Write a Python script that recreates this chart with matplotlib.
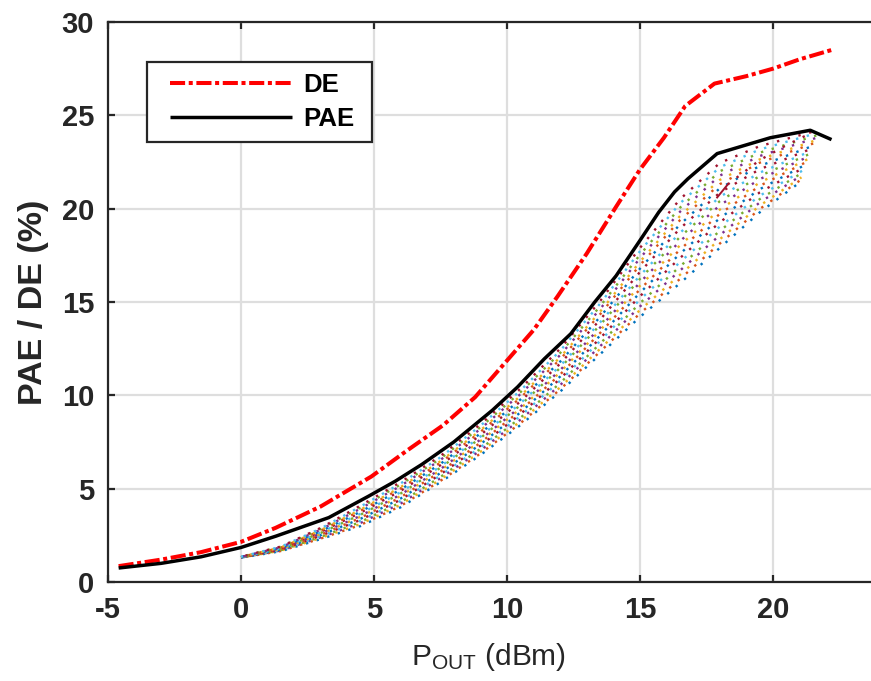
import numpy as np
import matplotlib
matplotlib.use("Agg")
import matplotlib.pyplot as plt
from matplotlib.patches import Rectangle

plt.rcParams['font.family'] = ['Liberation Sans', 'DejaVu Sans']
plt.rcParams['mathtext.fontset'] = 'custom'
plt.rcParams['mathtext.rm'] = 'Liberation Sans'
plt.rcParams['mathtext.it'] = 'Liberation Sans:italic'
plt.rcParams['mathtext.bf'] = 'Liberation Sans:bold'

# ---------------- data ----------------
pout_de = [-4.6, -3.0, -1.5, 0.0, 1.3, 3.0, 4.9, 6.2, 7.6, 8.8, 9.9, 11.0, 11.9,
           13.0, 14.1, 15.0, 15.9, 16.7, 17.8, 19.0, 20.0, 21.0, 22.2]
de = [0.85, 1.2, 1.6, 2.15, 2.9, 4.05, 5.65, 7.0, 8.4, 9.9, 11.7, 13.5, 15.3,
      17.6, 20.1, 22.1, 23.8, 25.5, 26.7, 27.1, 27.5, 28.0, 28.5]

pout_pae = [-4.6, -3.0, -1.5, 0.0, 1.3, 3.3, 4.8, 5.8, 6.8, 8.0, 9.45, 10.4, 11.4,
            12.4, 13.3, 14.1, 15.0, 15.7, 16.3, 16.8, 17.9, 19.9, 21.4, 22.2]
pae = [0.75, 1.0, 1.35, 1.85, 2.45, 3.45, 4.6, 5.4, 6.3, 7.5, 9.2, 10.45, 11.95,
       13.3, 15.0, 16.4, 18.3, 19.8, 20.9, 21.6, 22.95, 23.8, 24.2, 23.7]

# dotted sweep family: PAE of each sweep read at common Pout points
pout_sweep_grid = [0.0, 1.5, 3.0, 4.5, 6.0, 7.5, 9.0, 10.5, 12.0, 13.5, 15.0, 16.5, 18.0, 19.5]
pae_sweep_at_0 = [1.30, 1.30, 1.31, 1.31, 1.31, 1.31, 1.32, 1.32, 1.32, 1.32, 1.33,
                  1.33, 1.33, 1.33, 1.34, 1.34, 1.34, 1.34, 1.35, 1.35, 1.35]
pae_sweep_at_1p5 = [1.65, 1.66, 1.68, 1.69, 1.70, 1.71, 1.73, 1.74, 1.75, 1.76, 1.78,
                    1.79, 1.80, 1.81, 1.83, 1.84, 1.85, 1.86, 1.88, 1.89, 1.90]
pae_sweep_at_3 = [2.30, 2.33, 2.36, 2.39, 2.42, 2.45, 2.48, 2.51, 2.54, 2.57, 2.60,
                  2.63, 2.66, 2.69, 2.72, 2.75, 2.78, 2.81, 2.84, 2.87, 2.90]
pae_sweep_at_4p5 = [3.00, 3.06, 3.11, 3.17, 3.22, 3.28, 3.33, 3.39, 3.44, 3.50, 3.55,
                    3.61, 3.66, 3.72, 3.77, 3.83, 3.88, 3.94, 3.99, 4.05, 4.10]
pae_sweep_at_6 = [4.00, 4.07, 4.14, 4.20, 4.27, 4.34, 4.41, 4.47, 4.54, 4.61, 4.68,
                  4.74, 4.81, 4.88, 4.95, 5.01, 5.08, 5.15, 5.22, 5.28, 5.35]
pae_sweep_at_7p5 = [5.35, 5.42, 5.49, 5.56, 5.63, 5.70, 5.77, 5.84, 5.91, 5.98, 6.05,
                    6.12, 6.19, 6.26, 6.33, 6.40, 6.47, 6.54, 6.61, 6.68, 6.75]
pae_sweep_at_9 = [6.80, 6.88, 6.97, 7.05, 7.13, 7.21, 7.30, 7.38, 7.46, 7.54, 7.63,
                  7.71, 7.79, 7.87, 7.96, 8.04, 8.12, 8.20, 8.29, 8.37, 8.45]
pae_sweep_at_10p5 = [8.40, 8.50, 8.60, 8.69, 8.79, 8.89, 8.99, 9.08, 9.18, 9.28, 9.38,
                     9.47, 9.57, 9.67, 9.77, 9.86, 9.96, 10.06, 10.16, 10.25, 10.35]
pae_sweep_at_12 = [10.20, 10.32, 10.43, 10.55, 10.66, 10.78, 10.89, 11.01, 11.12, 11.24, 11.35,
                   11.47, 11.58, 11.70, 11.81, 11.93, 12.04, 12.16, 12.27, 12.39, 12.50]
pae_sweep_at_13p5 = [12.20, 12.34, 12.49, 12.63, 12.77, 12.91, 13.06, 13.20, 13.34, 13.48, 13.63,
                     13.77, 13.91, 14.05, 14.20, 14.34, 14.48, 14.62, 14.77, 14.91, 15.05]
pae_sweep_at_15 = [14.20, 14.39, 14.57, 14.76, 14.94, 15.13, 15.31, 15.50, 15.68, 15.87, 16.05,
                   16.24, 16.42, 16.61, 16.79, 16.98, 17.16, 17.35, 17.53, 17.72, 17.90]
pae_sweep_at_16p5 = [16.00, 16.23, 16.45, 16.68, 16.90, 17.13, 17.35, 17.58, 17.80, 18.03, 18.25,
                     18.48, 18.70, 18.93, 19.15, 19.38, 19.60, 19.83, 20.05, 20.28, 20.50]
pae_sweep_at_18 = [17.90, 18.13, 18.36, 18.58, 18.81, 19.04, 19.27, 19.49, 19.72, 19.95, 20.18,
                   20.40, 20.63, 20.86, 21.09, 21.31, 21.54, 21.77, 22.00, 22.22, 22.45]
pae_sweep_at_19p5 = [19.80, 19.98, 20.16, 20.33, 20.51, 20.69, 20.87, 21.04, 21.22, 21.40, 21.58,
                     21.75, 21.93, 22.11, 22.29, 22.46, 22.64, 22.82, 23.00, 23.17, 23.35]
pout_sweep_end = [21.00, 21.04, 21.07, 21.11, 21.14, 21.18, 21.21, 21.25, 21.28, 21.32, 21.35,
                  21.39, 21.42, 21.46, 21.49, 21.53, 21.56, 21.60, 21.63, 21.67, 21.70]
pae_sweep_end = [21.40, 21.54, 21.68, 21.82, 21.96, 22.10, 22.24, 22.38, 22.52, 22.66, 22.80,
                 22.94, 23.08, 23.22, 23.36, 23.50, 23.64, 23.78, 23.92, 24.06, 24.20]

# short extra sweep (dark red) near the top
pout_short = [17.9, 18.3, 19.5, 20.5, 21.5]
pae_short = [20.6, 21.3, 22.6, 23.4, 24.1]

legend_labels = ['DE', 'PAE']
xticks = [-5, 0, 5, 10, 15, 20]
yticks = [0, 5, 10, 15, 20, 25, 30]

matlab_colors = ['#0072BD', '#D95319', '#EDB120', '#7E2F8E', '#77AC30', '#4DBEEE', '#A2142F']

# ---------------- figure ----------------
W, H = 871, 681
fig = plt.figure(figsize=(W / 100, H / 100), dpi=100)
ax_left, ax_right, ax_top, ax_bottom = 108, 906, 22, 582
ax = fig.add_axes([ax_left / W, (H - ax_bottom) / H, (ax_right - ax_left) / W,
                   (ax_bottom - ax_top) / H])

sweep_cols = np.array([pae_sweep_at_0, pae_sweep_at_1p5, pae_sweep_at_3, pae_sweep_at_4p5,
                       pae_sweep_at_6, pae_sweep_at_7p5, pae_sweep_at_9, pae_sweep_at_10p5,
                       pae_sweep_at_12, pae_sweep_at_13p5, pae_sweep_at_15, pae_sweep_at_16p5,
                       pae_sweep_at_18, pae_sweep_at_19p5])
# dash phase of each dotted sweep (style only)
phases = [0.0, 2.6, 0.9, 3.5, 1.7, 4.1, 0.5, 3.0, 1.3, 3.9, 0.2, 2.2, 3.3, 1.1,
          4.3, 1.6, 0.7, 3.7, 2.4, 0.1, 2.8]
dot_gap = 3.7
for k in range(sweep_cols.shape[1]):
    xs = list(pout_sweep_grid) + [pout_sweep_end[k]]
    ys = list(sweep_cols[:, k]) + [pae_sweep_end[k]]
    ax.plot(xs, ys, linestyle=(phases[k], (1, dot_gap)), color=matlab_colors[k % 7], lw=1.7,
            dash_capstyle='butt', zorder=2)

ax.plot(pout_short[:2], pae_short[:2], '-', color='#A2142F', lw=1.4, zorder=2)
ax.plot(pout_short[1:], pae_short[1:], linestyle=(0, (1, dot_gap)), color='#A2142F', lw=1.7,
        dash_capstyle='butt', zorder=2)

l_de, = ax.plot(pout_de, de, color='#FF0000', lw=2.9, linestyle=(0, (3.75, 0.9, 1.0, 0.9)),
                dash_capstyle='butt', zorder=4)
l_pae, = ax.plot(pout_pae, pae, color='black', lw=2.5, zorder=5, solid_capstyle='butt')

ax.set_xlim(-5, 25)
ax.set_ylim(0, 30)
ax.set_xticks(xticks)
ax.set_yticks(yticks)
ax.set_xticklabels([str(t) for t in xticks])
ax.set_yticklabels([str(t) for t in yticks])

ax.grid(True, color='#dedede', lw=1.6)
ax.set_axisbelow(True)

for side in ['left', 'bottom', 'top']:
    ax.spines[side].set_color('#262626')
    ax.spines[side].set_linewidth(1.6)
ax.spines['right'].set_visible(False)

ax.tick_params(axis='both', direction='in', length=5, width=1.6, color='#262626',
               labelsize=21, labelcolor='#262626', pad=10, top=True, right=False)
for lab in ax.get_xticklabels() + ax.get_yticklabels():
    lab.set_fontweight('bold')

ax.set_ylabel('PAE / DE (%)', fontsize=24.5, fontweight='bold', color='#262626')
ax.yaxis.set_label_coords(-0.074, 0.5)
ax.set_xlabel(r'P$_{\mathregular{OUT}}$ (dBm)', fontsize=21.5, color='#262626')
ax.xaxis.set_label_coords((488 - ax_left) / (ax_right - ax_left), -0.105)

# legend frame drawn as a patch in figure pixels, entries without frame
frame = Rectangle((147 / W, 1 - 142 / H), (372 - 147) / W, (142 - 62) / H,
                  transform=fig.transFigure, facecolor='white', edgecolor='#262626',
                  lw=1.6, zorder=6, clip_on=False)
ax.add_patch(frame)
leg = ax.legend([l_de, l_pae], legend_labels, loc='upper left',
                bbox_to_anchor=(170 / W, 1 - 73 / H), bbox_transform=fig.transFigure,
                borderaxespad=0, borderpad=0, frameon=False,
                prop={'weight': 'bold', 'size': 18.5}, handlelength=4.75,
                handletextpad=0.43, labelspacing=0.40)
leg.set_zorder(7)

fig.savefig('out.png', dpi=100)
